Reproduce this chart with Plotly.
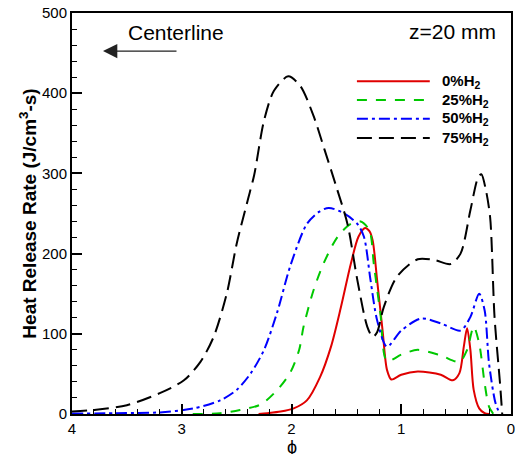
import plotly.graph_objects as go

# ---- data ----
phi_0 = [2.3, 2.22, 2.1, 1.98, 1.86, 1.74, 1.64, 1.55, 1.46, 1.39, 1.33, 1.29, 1.26, 1.22, 1.17, 1.13,
         1.09, 1.0, 0.85, 0.64, 0.53, 0.47, 0.43, 0.40, 0.37, 0.34, 0.29, 0.24, 0.2]
hrr_0 = [0, 1, 3, 7, 17, 46, 84, 133, 187, 221, 232, 228, 216, 167, 104, 55,
         43, 49, 53, 49, 42, 51, 84, 107, 80, 30, 7, 1, 0]

phi_25 = [2.9, 2.65, 2.47, 2.28, 2.13, 2.01, 1.93, 1.89, 1.8, 1.71, 1.58, 1.46, 1.37, 1.29, 1.25,
          1.19, 1.13, 1.0, 0.85, 0.64, 0.47, 0.40, 0.34, 0.29, 0.24, 0.2, 0.16]
hrr_25 = [0, 1, 5, 12, 30, 52, 80, 109, 154, 187, 221, 237, 240, 229, 187,
          125, 66, 74, 80, 73, 65, 80, 109, 88, 38, 9, 0]

phi_50 = [4.0, 3.6, 3.2, 2.89, 2.65, 2.5, 2.37, 2.25, 2.13, 2.01, 1.86, 1.75, 1.66, 1.52, 1.4, 1.34,
          1.28, 1.22, 1.13, 1.0, 0.82, 0.64, 0.46, 0.37, 0.29, 0.24, 0.2, 0.14, 0.1]
hrr_50 = [0.5, 1, 2, 7, 17, 30, 51, 80, 127, 185, 237, 252, 257, 250, 237, 221,
          167, 117, 84, 104, 119, 113, 104, 121, 150, 129, 63, 13, 0]

phi_75 = [4.0, 3.8, 3.5, 3.2, 2.98, 2.83, 2.71, 2.59, 2.5, 2.4, 2.34, 2.25, 2.16, 2.03, 1.92, 1.8,
          1.7, 1.6, 1.49, 1.4, 1.31, 1.26, 1.22, 1.16, 1.04, 0.85, 0.7, 0.55, 0.46, 0.37, 0.3,
          0.27, 0.23, 0.19, 0.15, 0.1, 0.08]
hrr_75 = [3, 5, 11, 26, 42, 65, 96, 150, 212, 266, 298, 366, 403, 421, 409, 372,
          330, 287, 237, 167, 109, 96, 102, 133, 171, 193, 192, 187, 200, 254, 295,
          299, 280, 245, 121, 38, 0]

names = ["<b>0%H<sub>2</sub></b>", "<b>25%H<sub>2</sub></b>",
         "<b>50%H<sub>2</sub></b>", "<b>75%H<sub>2</sub></b>"]

colors = ["#e00000", "#00c800", "#0000ff", "#000000"]
dashes = ["solid", "10px,9px", "11px,4px,3px,4px", "15px,7px"]
xs = [phi_0, phi_25, phi_50, phi_75]
ys = [hrr_0, hrr_25, hrr_50, hrr_75]

font_family = "Liberation Sans, Arial, sans-serif"

fig = go.Figure()
for x, y, c, d, n in zip(xs, ys, colors, dashes, names):
    fig.add_trace(go.Scatter(
        x=x, y=y, mode="lines", name=n, showlegend=False,
        line=dict(color=c, width=2, dash=d, shape="spline", smoothing=0.8),
    ))

# legend drawn as line samples + labels (paper coordinates)
leg_x0, leg_x1, leg_tx = 0.649, 0.815, 0.838
leg_y = [0.830, 0.783, 0.736, 0.688]
shapes = []
annotations = []
for c, d, n, yy in zip(colors, dashes, names, leg_y):
    shapes.append(dict(type="line", xref="paper", yref="paper",
                       x0=leg_x0, x1=leg_x1, y0=yy, y1=yy,
                       line=dict(color=c, width=2, dash=d)))
    annotations.append(dict(x=leg_tx, y=yy, xref="paper", yref="paper", text=n,
                            showarrow=False, xanchor="left", yanchor="middle",
                            font=dict(size=15, color="black")))

annotations += [
    dict(x=0.237, y=0.951, xref="paper", yref="paper", text="Centerline",
         xanchor="center", yanchor="middle", showarrow=False, font=dict(size=21)),
    dict(x=0.0706, y=0.905, xref="paper", yref="paper", text="",
         showarrow=True, ax=75, ay=0, arrowhead=2, arrowsize=2.2,
         arrowwidth=1.3, arrowcolor="#222"),
    dict(x=0.866, y=0.955, xref="paper", yref="paper", text="z=20 mm",
         xanchor="center", yanchor="middle", showarrow=False, font=dict(size=21)),
    # x-axis title (ϕ) placed just below the tick labels
    dict(x=0.5, y=-0.083, xref="paper", yref="paper", text="ϕ",
         xanchor="center", yanchor="middle", showarrow=False, font=dict(size=18)),
]

fig.update_layout(
    width=515, height=454,
    margin=dict(l=72, r=4, t=13, b=40),
    plot_bgcolor="white", paper_bgcolor="white",
    font=dict(family=font_family, size=15, color="black"),
    showlegend=False,
    shapes=shapes,
    annotations=annotations,
    xaxis=dict(
        range=[4, 0], dtick=1, tick0=0, automargin=False, ticklabeloverflow="allow",
        ticks="inside", ticklen=10, tickwidth=2, tickcolor="black",
        minor=dict(dtick=0.2, ticks="inside", ticklen=5, tickwidth=1, tickcolor="black"),
        showline=True, linewidth=2, linecolor="black", mirror=True,
        showgrid=False, zeroline=False,
        tickfont=dict(size=15),
    ),
    yaxis=dict(
        range=[0, 500], dtick=100, tick0=0, automargin=False,
        ticks="inside", ticklen=10, tickwidth=2, tickcolor="black",
        minor=dict(dtick=20, ticks="inside", ticklen=5, tickwidth=1, tickcolor="black"),
        showline=True, linewidth=2, linecolor="black", mirror=True,
        showgrid=False, zeroline=False,
        tickfont=dict(size=15),
        title=dict(text="<b>Heat Release Rate (J/cm<sup>3</sup>-s)</b>", font=dict(size=19), standoff=0),
    ),
)

fig.write_html("out.html")
